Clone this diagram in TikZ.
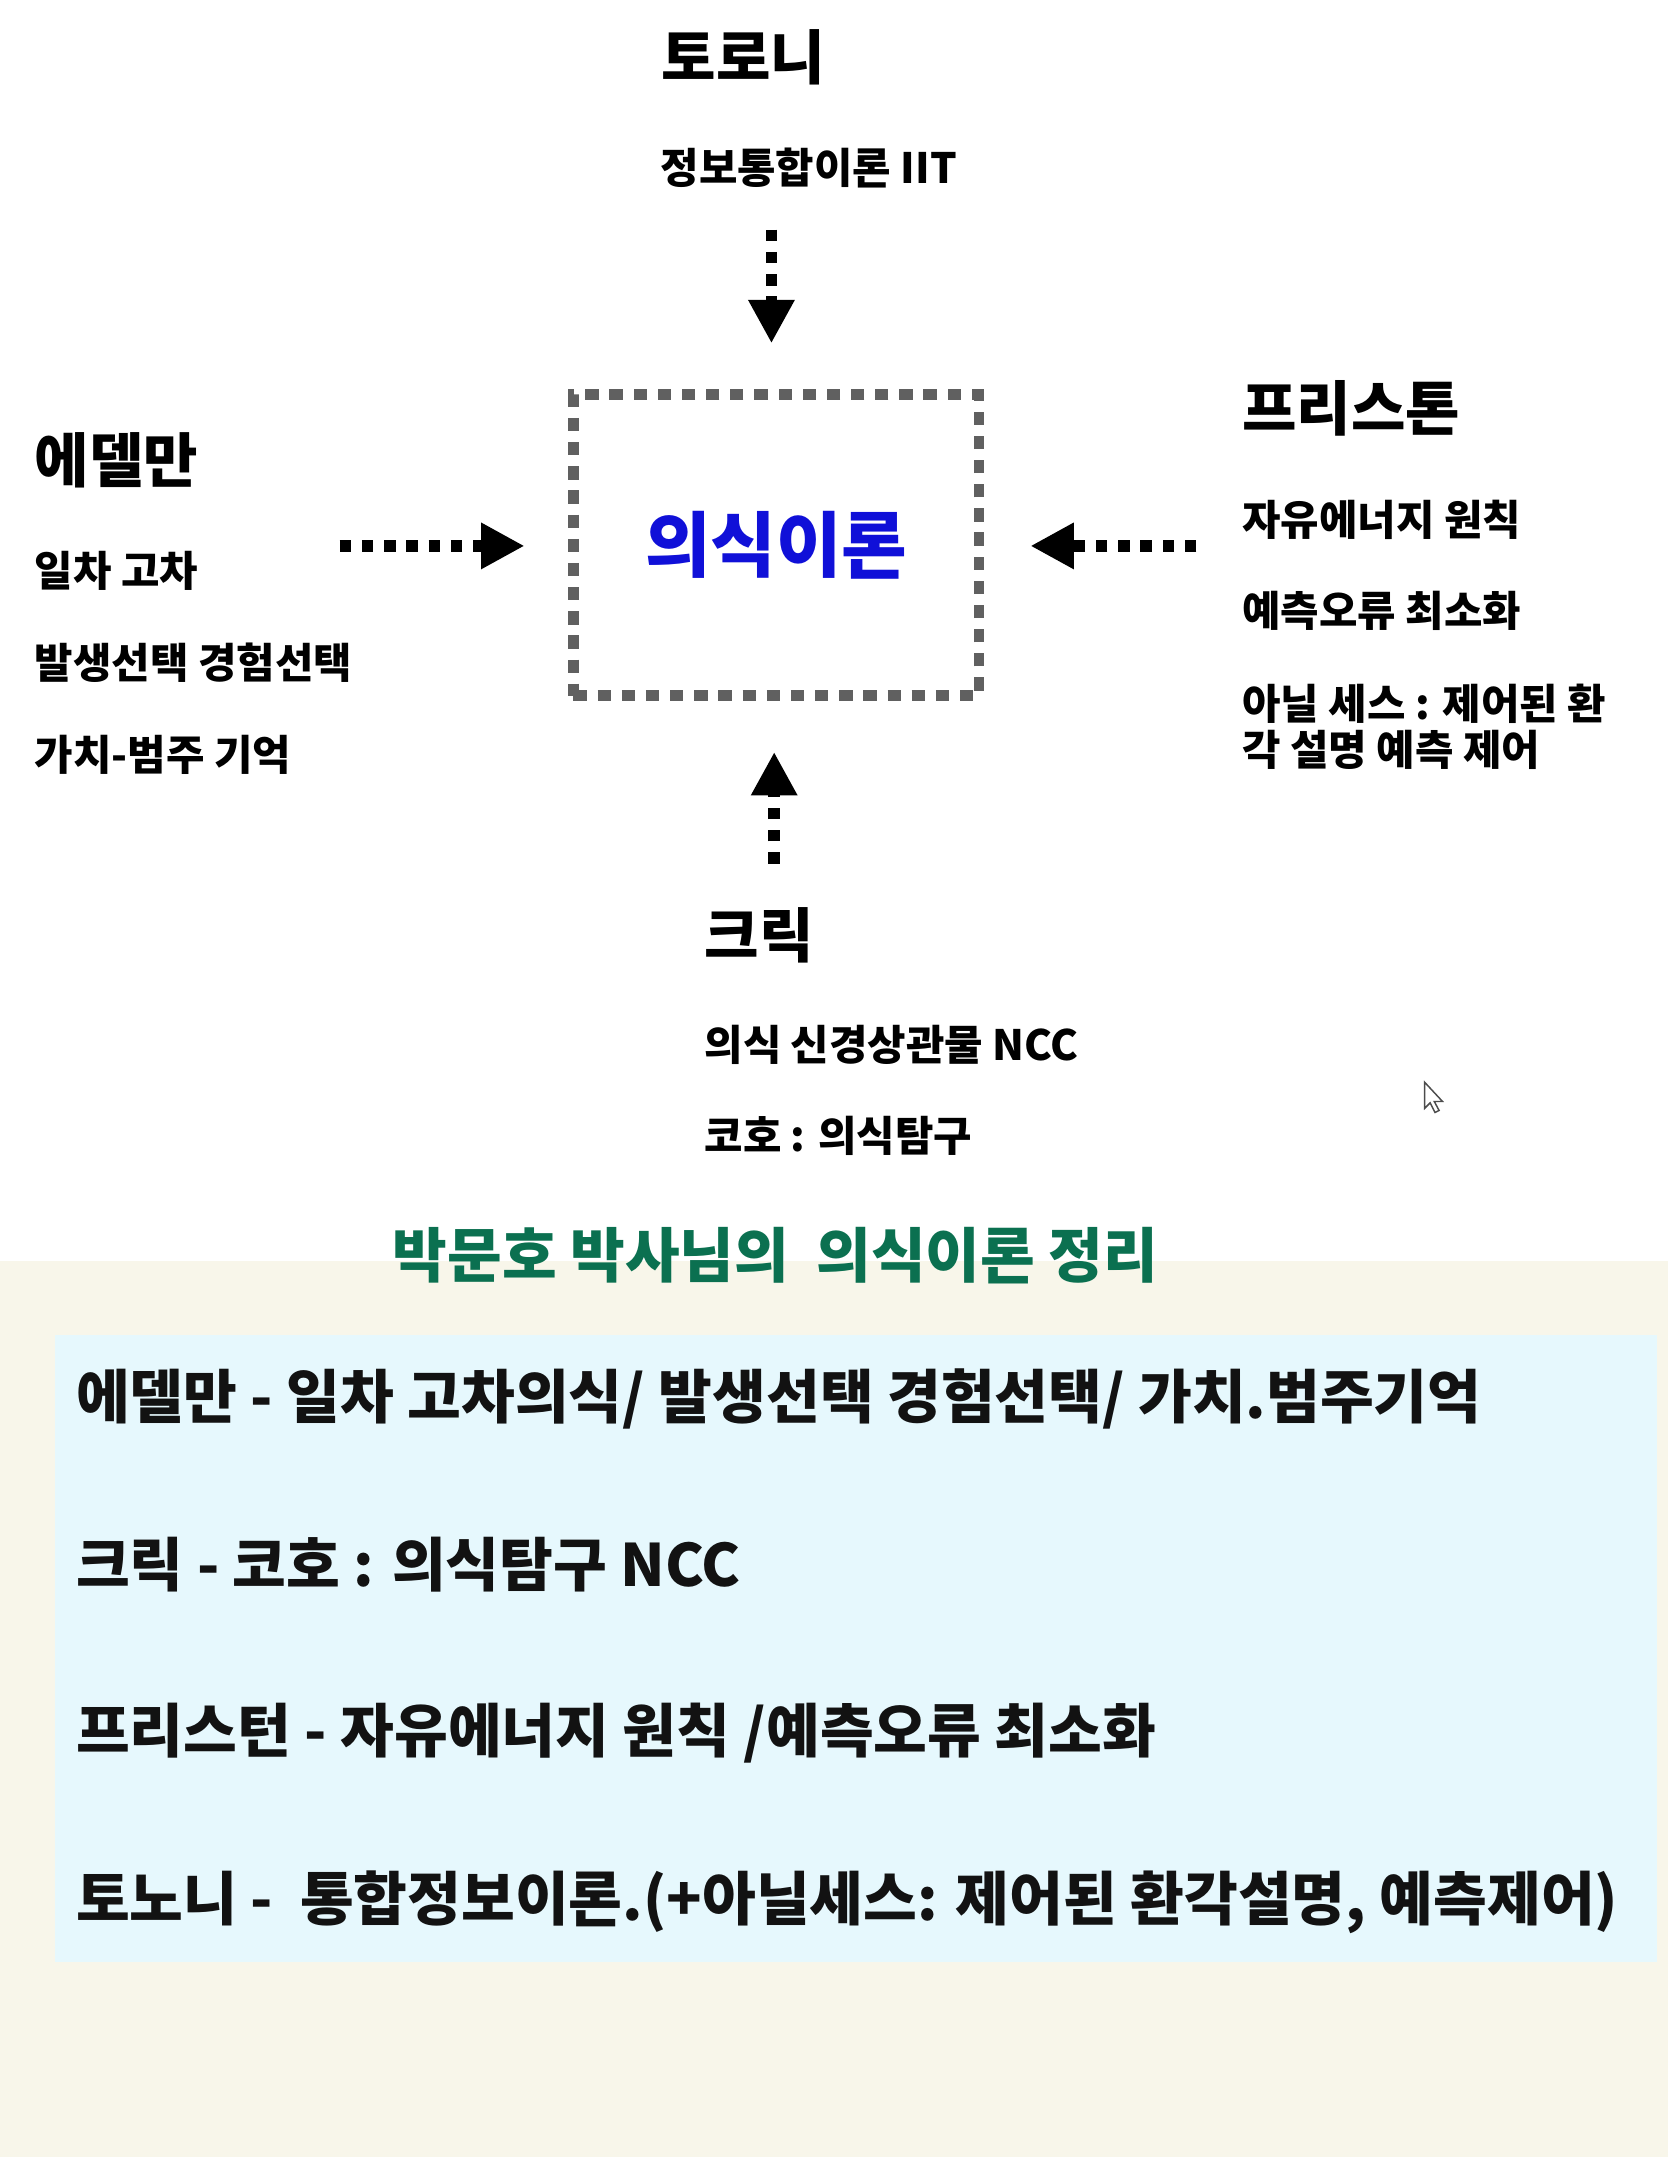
\documentclass[tikz,border=0pt]{standalone}
\usepackage{fontspec}
\setmainfont{Noto Sans CJK KR}
\usetikzlibrary{arrows.meta, positioning}
\definecolor{cream}{HTML}{F8F6EA}
\definecolor{paleblue}{HTML}{E6F8FD}
\definecolor{titlegreen}{HTML}{0B7050}
\definecolor{boxgray}{HTML}{606060}
\definecolor{theoryblue}{HTML}{1010D8}

\begin{document}
\begin{tikzpicture}[x=0.02cm, y=-0.02cm,
  scholar/.style={anchor=west, inner sep=0pt, font=\fontsize{24.5}{28}\selectfont\bfseries},
  idea/.style={anchor=west, inner sep=0pt, align=left, font=\fontsize{17.3}{18.8}\selectfont\bfseries},
  summary/.style={anchor=west, inner sep=0pt, font=\fontsize{24.2}{28}\selectfont\bfseries, text=black!93},
  flow/.style={-{Triangle[length=18pt,width=18pt]}, line width=4.8pt, dash pattern=on 4.8pt off 4.4pt},
  theorybox/.style={draw=boxgray, line width=4.5pt, dash pattern=on 5.5pt off 4.5pt,
    minimum width=5.9cm, minimum height=4.38cm, text=theoryblue, font=\fontsize{29.5}{32}\selectfont\bfseries}]
  \useasboundingbox (0,0) rectangle (1213,1568.6);
  % Backgrounds
  \fill[white] (0,0) rectangle (1213,917);
  \fill[cream] (0,917) rectangle (1213,1568.6);
  \fill[paleblue] (40,971) rectangle (1205,1427);

  % Theory
  \node[theorybox] (theory) at (564.5,396.5) {의식이론};

  % Tononi
  \node[scholar] (tononi) at (481,42) {토로니};
  \node[idea] (iit) at (480,122) {정보통합이론 IIT};
  % Edelman
  \node[scholar] (edelman) at (25,335) {에델만};
  \node[idea] (ed1) at (25,415) {일차 고차};
  \node[idea] (ed2) at (25,482) {발생선택 경험선택};
  \node[idea] (ed3) at (25,549) {가치-범주 기억};
  % Friston
  \node[scholar] (friston) at (903,297) {프리스톤};
  \node[idea] (fr1) at (903,378) {자유에너지 원칙};
  \node[idea] (fr2) at (903,444) {예측오류 최소화};
  \node[idea] (fr3) at (903,528.5) {아닐 세스 : 제어된 환\\각 설명 예측 제어};
  % Crick
  \node[scholar] (crick) at (512,680) {크릭};
  \node[idea] (cr1) at (512,760) {의식 신경상관물 NCC};
  \node[idea] (cr2) at (512,826) {코호 : 의식탐구};

  % Arrows
  \coordinate (tononiarrow) at (561,167);
  \coordinate (edelmanarrow) at (247,397);
  \coordinate (fristonarrow) at (870,397);
  \coordinate (crickarrow) at (563,628);
  \draw[flow, shorten >=19pt] (tononiarrow) -- (tononiarrow |- theory.north);
  \draw[flow, shorten >=18pt] (edelmanarrow) -- (edelmanarrow -| theory.west);
  \draw[flow, shorten >=19pt] (fristonarrow) -- (fristonarrow -| theory.east);
  \draw[flow, shorten >=21pt] (crickarrow) -- (crickarrow |- theory.south);

  % Pointer
  \draw[black!70, fill=white, line width=0.6pt] (1036,787) -- (1036,806) -- (1040,802) -- (1043.5,809)
    -- (1046.5,807.5) -- (1043,801) -- (1049,801) -- cycle;

  % Summary
  \node[inner sep=0pt, text=titlegreen, font=\fontsize{24.6}{28}\selectfont\bfseries] (title) at (564,913) {박문호 박사님의\ \ 의식이론 정리};
  \node[summary] (sum1) at (55,1017) {에델만 - 일차 고차의식/ 발생선택 경험선택/ 가치.범주기억};
  \node[summary] (sum2) at (55,1138) {크릭 - 코호 : 의식탐구 NCC};
  \node[summary] (sum3) at (55,1260) {프리스턴 - 자유에너지 원칙 /예측오류 최소화};
  \node[summary] (sum4) at (55,1383) {토노니 -\ \ 통합정보이론.(+아닐세스: 제어된 환각설명, 예측제어)};
\end{tikzpicture}
\end{document}
